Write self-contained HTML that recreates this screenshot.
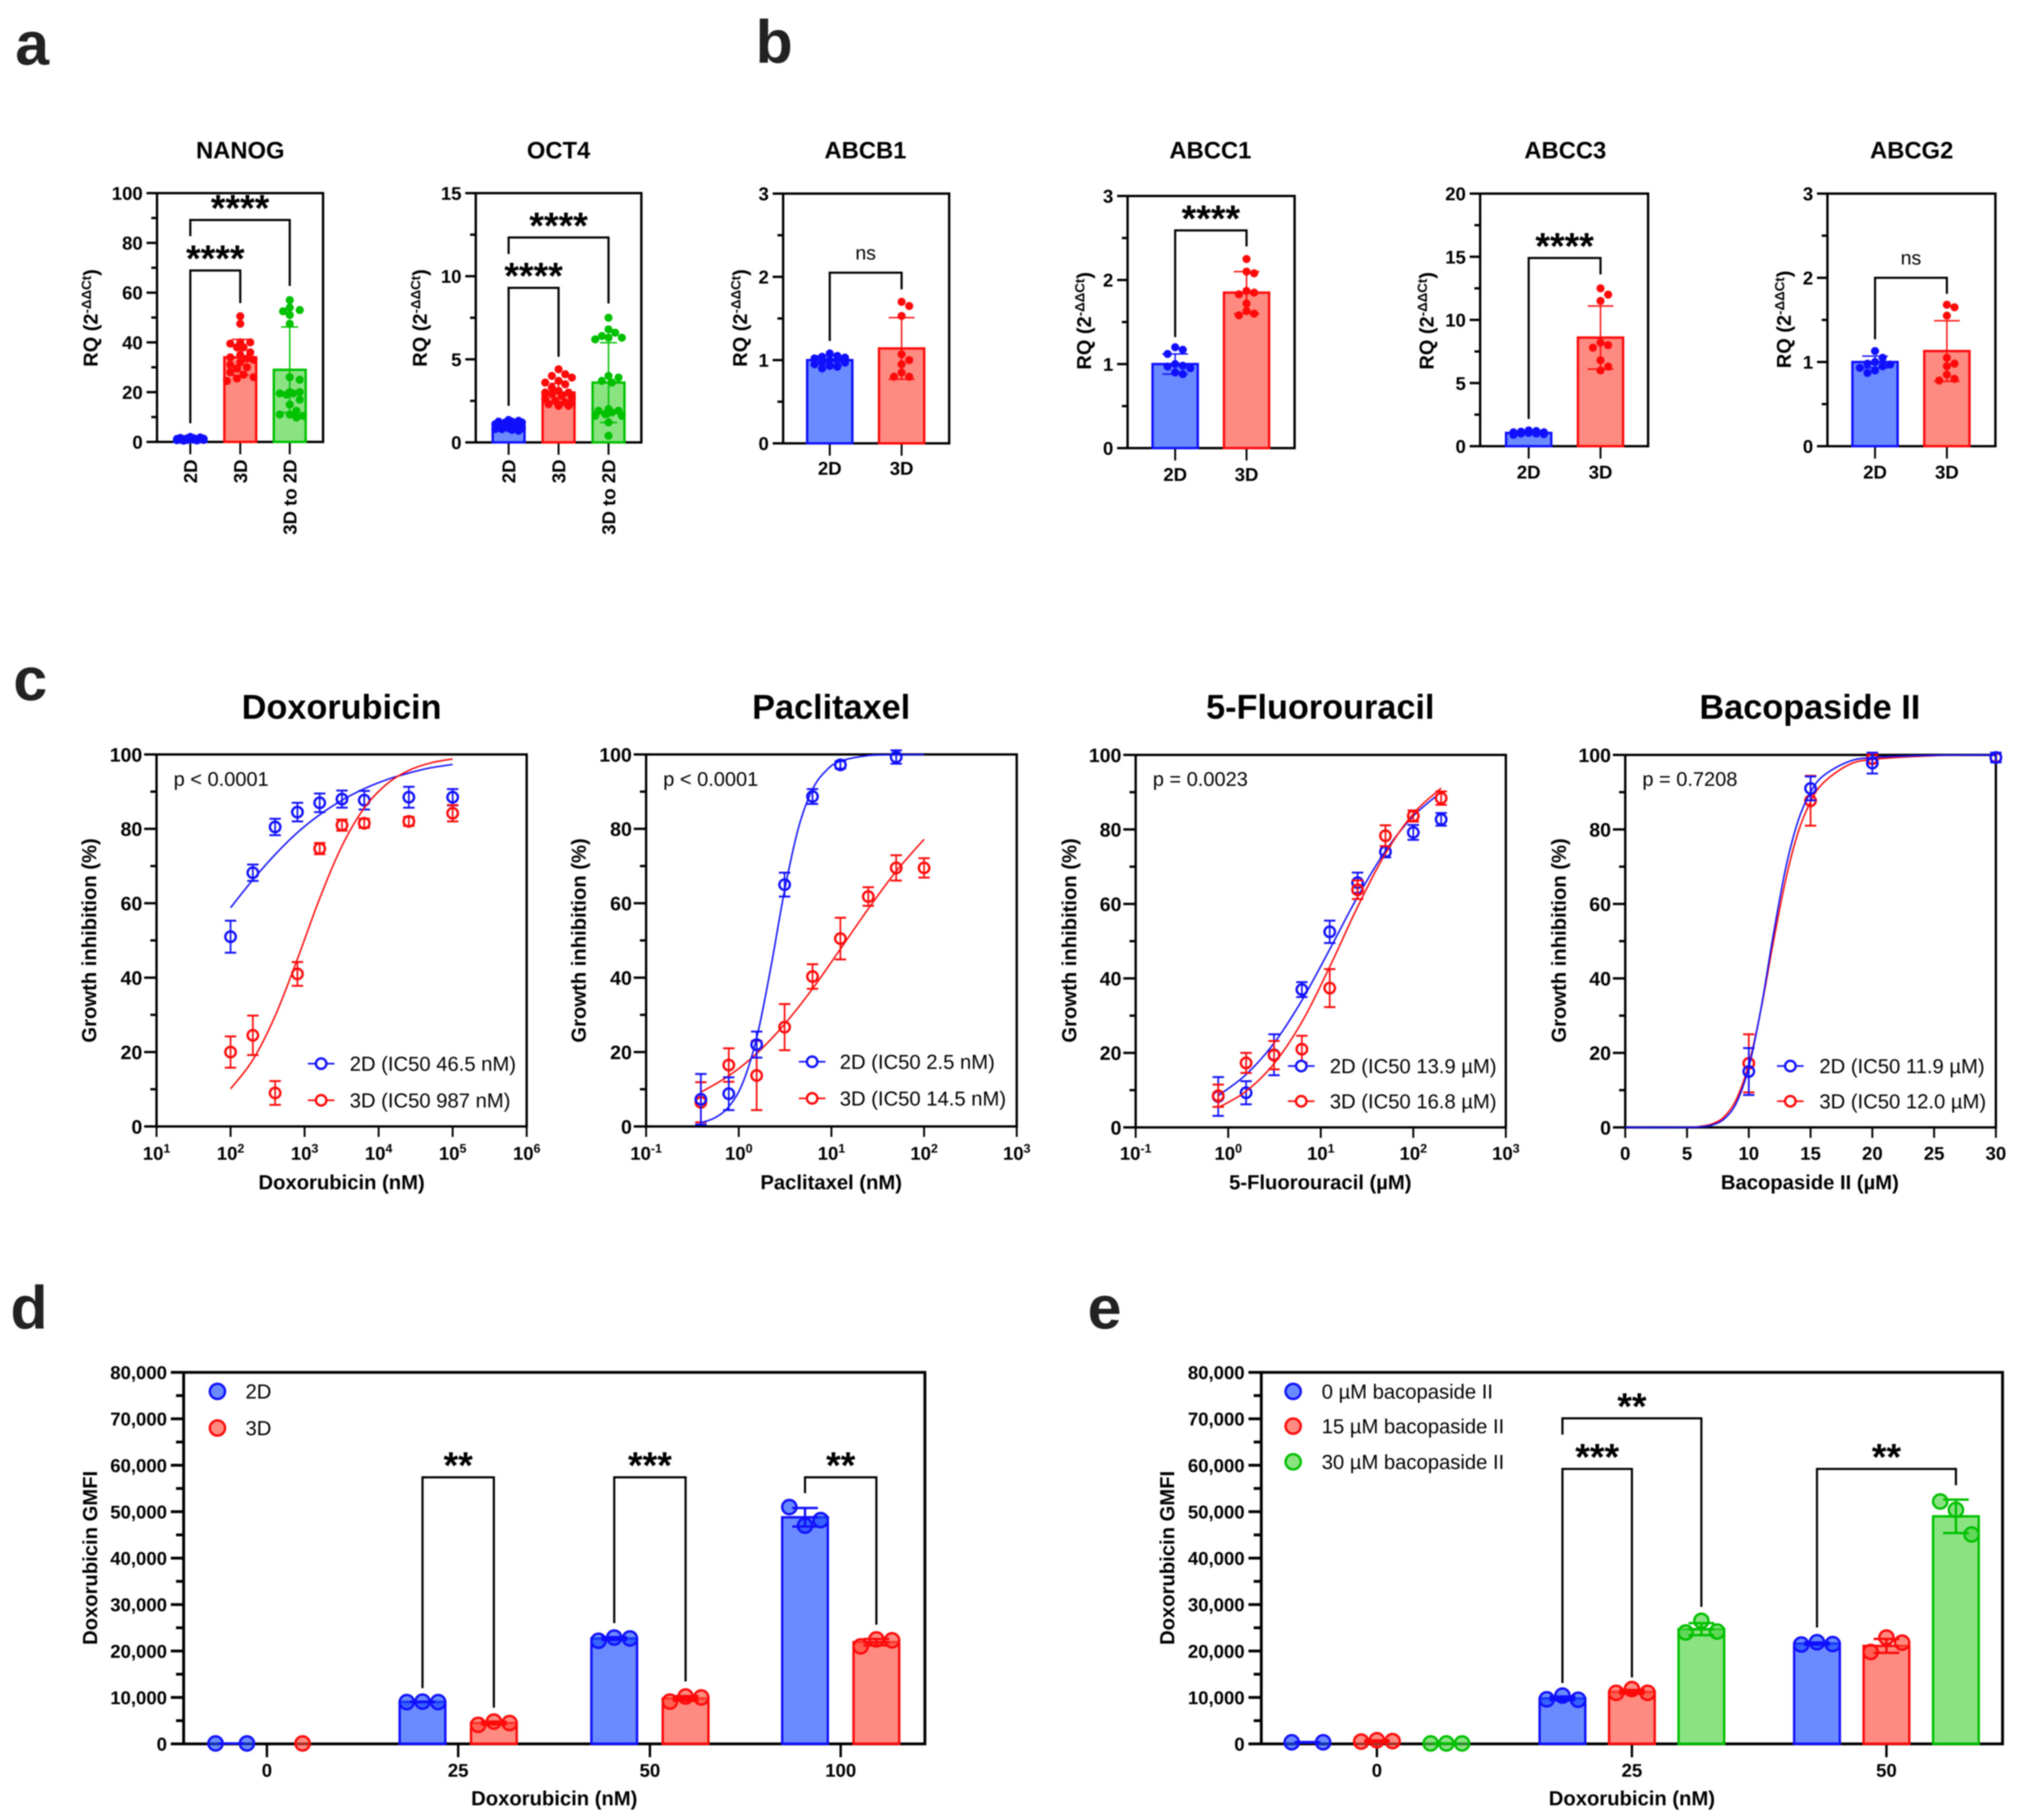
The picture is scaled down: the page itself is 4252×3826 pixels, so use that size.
<!DOCTYPE html>
<html lang="en">
<head>
<meta charset="utf-8">
<title>Figure panels a-e</title>
<style>
html,body{margin:0;padding:0;background:#fff;}
svg{display:block;filter:blur(1.4px);}
text{font-family:"Liberation Sans",Arial,sans-serif;fill:#000;}
.b{font-weight:bold;}
</style>
</head>
<body>
<svg id="figure" width="4252" height="3826" viewBox="0 0 4252 3826">
<rect x="-10" y="-10" width="4272" height="3846" fill="#fff"/>
<g>
<text class="b" x="32" y="136" font-size="128" style="fill:#222">a</text>
<text class="b" x="1588" y="132" font-size="128" style="fill:#222">b</text>
<text class="b" x="28" y="1472" font-size="128" style="fill:#222">c</text>
<text class="b" x="22" y="2793" font-size="128" style="fill:#222">d</text>
<text class="b" x="2286" y="2793" font-size="128" style="fill:#222">e</text>
</g>
<g>
<text class="b" x="505" y="333" font-size="50" text-anchor="middle">NANOG</text>
<text class="b" x="1174" y="333" font-size="50" text-anchor="middle">OCT4</text>
<text class="b" x="1819" y="333" font-size="50" text-anchor="middle">ABCB1</text>
<text class="b" x="2544" y="333" font-size="50" text-anchor="middle">ABCC1</text>
<text class="b" x="3290" y="333" font-size="50" text-anchor="middle">ABCC3</text>
<text class="b" x="4018" y="333" font-size="50" text-anchor="middle">ABCG2</text>
<text class="b" x="718" y="1511" font-size="72" text-anchor="middle">Doxorubicin</text>
<text class="b" x="1747" y="1511" font-size="72" text-anchor="middle">Paclitaxel</text>
<text class="b" x="2775" y="1511" font-size="72" text-anchor="middle">5-Fluorouracil</text>
<text class="b" x="3804" y="1511" font-size="72" text-anchor="middle">Bacopaside II</text>
</g>
<g>
<text class="b" x="718" y="2500" font-size="42.5" text-anchor="middle">Doxorubicin (nM)</text>
<text class="b" x="1747" y="2500" font-size="42.5" text-anchor="middle">Paclitaxel (nM)</text>
<text class="b" x="2775" y="2500" font-size="42.5" text-anchor="middle">5-Fluorouracil (µM)</text>
<text class="b" x="3804" y="2500" font-size="42.5" text-anchor="middle">Bacopaside II (µM)</text>
<text class="b" transform="rotate(-90 202 1977)" x="202" y="1977" font-size="42.5" text-anchor="middle">Growth inhibition (%)</text>
<text class="b" transform="rotate(-90 1231 1977)" x="1231" y="1977" font-size="42.5" text-anchor="middle">Growth inhibition (%)</text>
<text class="b" transform="rotate(-90 2262 1977)" x="2262" y="1977" font-size="42.5" text-anchor="middle">Growth inhibition (%)</text>
<text class="b" transform="rotate(-90 3291 1977)" x="3291" y="1977" font-size="42.5" text-anchor="middle">Growth inhibition (%)</text>
<text class="b" x="1165" y="3795" font-size="42.5" text-anchor="middle">Doxorubicin (nM)</text>
<text class="b" x="3430" y="3795" font-size="42.5" text-anchor="middle">Doxorubicin (nM)</text>
<text class="b" transform="rotate(-90 204 3275)" x="204" y="3275" font-size="42.5" text-anchor="middle">Doxorubicin GMFI</text>
<text class="b" transform="rotate(-90 2468 3275)" x="2468" y="3275" font-size="42.5" text-anchor="middle">Doxorubicin GMFI</text>
</g>
<g>
<text x="365" y="1652" font-size="42">p &lt; 0.0001</text>
<text x="1394" y="1652" font-size="42">p &lt; 0.0001</text>
<text x="2423" y="1652" font-size="42">p = 0.0023</text>
<text x="3452" y="1652" font-size="42">p = 0.7208</text>
</g>
<g id="chart-nanog"></g>
<g id="chart-oct4"></g>
<g id="chart-abcb1"></g>
<g id="chart-abcc1"></g>
<g id="chart-abcc3"></g>
<g id="chart-abcg2"></g>
<g id="chart-dox"></g>
<g id="chart-pac"></g>
<g id="chart-fu"></g>
<g id="chart-bac"></g>
<g id="chart-d"></g>
<g id="chart-e"></g>
</svg>
<script>
// ---------- Panel a ----------
const cats3 = ['2D', '3D', '3D to 2D'];
const cats2 = ['2D', '3D'];
const nanogMeans = [1.1, 34, 29];
const nanogSd = [0.4, 7.2, 17.2];
const nanog2D = [1.5, 1.6, 1.8, 2.0, 1.2, 1.1, 0.9, 0.8, 0.7, 1.0, 1.3, 0.6, 0.9, 1.0, 1.4, 0.5, 0.8, 1.1];
const nanog3D = [50.5, 47.5, 40, 40, 39.5, 38, 38, 36, 35, 34, 33.5, 33, 32, 31, 30, 29.5, 28, 27, 26, 25.5, 24.5];
const nanogGreen = [57, 54, 53, 52.5, 51, 47.5, 26, 25, 20, 20, 19.5, 19.5, 19, 17, 15, 12.5, 11, 11, 10.5, 9.8];
const nanogBrackets = [[0, 1, 68.9, 7.5, 55.8, '****'], [0, 2, 89.2, 82.7, 62.7, '****']];
const oct4Means = [1, 3, 3.6];
const oct4Sd = [0.18, 0.55, 2.4];
const oct42D = [1.35, 1.3, 1.25, 1.25, 1.2, 1.2, 1.15, 1.1, 1.1, 1.05, 1, 1, 0.95, 0.9, 0.9, 0.85, 0.85, 0.8, 0.8, 0.75, 0.7];
const oct43D = [4.4, 4.1, 4, 3.9, 3.7, 3.6, 3.5, 3.3, 3.1, 3, 3, 2.9, 2.8, 2.7, 2.6, 2.5, 2.4, 2.4, 2.3, 2.2, 2.2];
const oct4Green = [7.5, 6.8, 6.6, 6.4, 6.3, 6.3, 6.2, 4.0, 3.9, 3.7, 3.6, 2.0, 1.9, 1.9, 1.8, 1.7, 1.6, 1.6, 1.2, 0.4];
const oct4Brackets = [[0, 1, 9.3, 2.2, 5.15, '****'], [0, 2, 12.33, 11.34, 8.36, '****']];
// ---------- Panel b ----------
const abcb1Means = [1, 1.14];
const abcb1Sd = [0.05, 0.37];
const abcb12D = [1.08, 1.05, 1.04, 1.03, 1.02, 1.0, 1.0, 0.98, 0.97, 0.95, 0.93, 0.92, 0.9];
const abcb13D = [1.7, 1.65, 1.53, 1.07, 1.0, 0.95, 0.85, 0.8, 0.8];
const abcb1Brackets = [[0, 1, 2.05, 1.23, 1.85, 'ns']];
const abcc1Means = [1, 1.85];
const abcc1Sd = [0.12, 0.25];
const abcc12D = [1.2, 1.17, 1.12, 1.0, 0.98, 0.97, 0.95, 0.9, 0.88];
const abcc13D = [2.25, 2.1, 2.08, 1.87, 1.85, 1.83, 1.72, 1.63, 1.6, 1.58];
const abcc1Brackets = [[0, 1, 2.59, 1.32, 2.4, '****']];
const abcc3Means = [1.05, 8.6];
const abcc3Sd = [0.1, 2.5];
const abcc32D = [1.25, 1.2, 1.15, 1.1, 1.1, 1.05, 1.0, 1.0, 0.95, 0.9];
const abcc33D = [12.5, 12, 11.5, 8.2, 8, 7.8, 6.8, 6.3, 6];
const abcc3Brackets = [[0, 1, 14.9, 2.16, 13.6, '****']];
const abcg2Means = [1, 1.13];
const abcg2Sd = [0.07, 0.36];
const abcg22D = [1.13, 1.05, 1.0, 0.98, 0.97, 0.95, 0.93, 0.9, 0.87];
const abcg23D = [1.68, 1.65, 1.55, 1.05, 0.98, 0.95, 0.85, 0.8, 0.78];
const abcg2Brackets = [[0, 1, 2.0, 1.27, 1.81, 'ns']];
// ---------- Panel c ----------
const doxX = [100, 200, 400, 800, 1600, 3200, 6400, 25600, 100000];
const dox2D = [51, 68.2, 80.5, 84.5, 87, 88, 87.7, 88.5, 88.5];
const dox2DErr = [4.3, 2.2, 2.2, 2.5, 2.5, 2.3, 2.5, 2.8, 2.2];
const dox3D = [20, 24.5, 9, 41, 74.7, 81, 81.5, 82, 84.2];
const dox3DErr = [4.2, 5.3, 3.2, 3.2, 1.5, 1.5, 1.2, 1.2, 2.2];
const doxCurveX = [100, 200, 400, 800, 1600, 3200, 6400, 12800, 25600, 50000, 100000];
const doxCurve2D = [58.8, 66.3, 73.1, 79, 83.8, 87.7, 90.8, 93.2, 95, 96.4, 97.3];
const doxCurve3D = [10.1, 17.9, 29.7, 45, 61.3, 75.4, 85.6, 92, 95.7, 97.7, 98.8];
const pacX2D = [0.39, 0.78, 1.56, 3.125, 6.25, 12.5, 50];
const pac2D = [7.3, 8.8, 22, 65, 88.7, 97.2, 99.3];
const pac2DErr = [6.8, 4.4, 3.5, 3.2, 2, 1, 1.8];
const pacX3D = [0.39, 0.78, 1.56, 3.125, 6.25, 12.5, 25, 50, 100];
const pac3D = [6.5, 16.5, 13.7, 26.7, 40.3, 50.5, 61.8, 69.5, 69.5];
const pac3DErr = [5.4, 4.5, 9.3, 6.2, 3.3, 5.6, 2.5, 3.4, 2.6];
const pacCurveX2D = [0.39, 0.55, 0.78, 1.1, 1.56, 2.2, 3.1, 4.4, 6.25, 8.8, 12.5, 25, 50, 100];
const pacCurve2D = [1, 2.3, 5.3, 11.6, 23.8, 42.2, 63, 80.2, 90.6, 95.7, 98.2, 99.7, 99.9, 100];
const pacCurveX3D = [0.39, 0.78, 1.56, 3.1, 6.25, 12.5, 25, 50, 100];
const pacCurve3D = [9.2, 13.6, 19.6, 27.4, 37, 47.7, 58.5, 68.6, 77.2];
const fuX = [0.78, 1.56, 3.125, 6.25, 12.5, 25, 50, 100, 200];
const fu2D = [8.3, 9.3, 19.5, 37, 52.5, 65.7, 74, 79.2, 82.7];
const fu2DErr = [5.2, 3.1, 5.5, 2, 3, 2.7, 1.5, 2, 1.7];
const fu3D = [8.5, 17.3, 19.4, 21, 37.4, 63.8, 78.3, 83.6, 88.4];
const fu3DErr = [3, 2.7, 3.8, 3.6, 5.1, 2.5, 2.8, 1.5, 1.8];
const fuCurve2D = [8.5, 14.2, 22.6, 34.1, 47.8, 61.9, 74.2, 83.6, 90];
const fuCurve3D = [5.3, 9.7, 17.1, 28.3, 43.1, 59.2, 73.5, 84.2, 91.1];
const bacX = [10, 15, 20, 30];
const bac2D = [15, 91, 97.8, 99.3];
const bac2DErr = [6.3, 3.2, 2.8, 1.3];
const bac3D = [17.2, 87.7, 99, 99.3];
const bac3DErr = [7.8, 6.7, 1.3, 1];
const bacCurveX = [0, 5, 6, 7, 8, 9, 10, 11, 12, 13, 14, 15, 16, 18, 20, 25, 30];
const bacCurve2D = [0, 0.03, 0.15, 0.6, 2.25, 6.6, 16.1, 32.1, 52, 69.8, 82.4, 90, 94.3, 98.1, 99.3, 99.9, 100];
const bacCurve3D = [0, 0.05, 0.24, 0.9, 2.85, 7.6, 17, 31.9, 50, 66.7, 79.3, 87.4, 92.4, 97.2, 98.8, 99.8, 100];
const bacTicks = [0, 5, 10, 15, 20, 25, 30];
const doxExps = ['1', '2', '3', '4', '5', '6'];
const pacExps = ['-1', '0', '1', '2', '3'];
const fuExps = ['-1', '0', '1', '2', '3'];
const doxLegend = ['2D (IC50 46.5 nM)', '3D (IC50 987 nM)'];
const pacLegend = ['2D (IC50 2.5 nM)', '3D (IC50 14.5 nM)'];
const fuLegend = ['2D (IC50 13.9 µM)', '3D (IC50 16.8 µM)'];
const bacLegend = ['2D (IC50 11.9 µM)', '3D (IC50 12.0 µM)'];
// ---------- Panel d ----------
const dCats = ['0', '25', '50', '100'];
const dMeans2D = [100, 9050, 22700, 48800];
const dSd2D = [0, 60, 300, 2000];
const dPoints2D = [[100, 100], [9000, 9100, 9000], [22200, 22900, 22700], [51000, 47000, 48200]];
const dMeans3D = [100, 4500, 9800, 21900];
const dSd3D = [0, 300, 500, 700];
const dPoints3D = [[100], [4100, 4800, 4500], [9100, 10200, 10000], [21000, 22500, 22300]];
const dLegend = ['2D', '3D'];
const dBrackets = [[1, 0, 1, 1, 57400, 12000, 7800, '**'], [2, 0, 2, 1, 57400, 26000, 13450, '***'], [3, 0, 3, 1, 57400, 54000, 25660, '**']];
// ---------- Panel e ----------
const eCats = ['0', '25', '50'];
const eMeans0 = [350, 9800, 21600];
const eSd0 = [50, 400, 250];
const ePoints0 = [[350, 350], [9600, 10400, 9500], [21400, 21900, 21500]];
const eMeans15 = [600, 11200, 21100];
const eSd15 = [150, 400, 1500];
const ePoints15 = [[500, 800, 600], [11000, 11800, 11000], [19800, 22900, 21800]];
const eMeans30 = [100, 24700, 49000];
const eSd30 = [20, 1300, 3600];
const ePoints30 = [[100, 100, 100], [24000, 26500, 24200], [52200, 50400, 45100]];
const eLegend = ['0 µM bacopaside II', '15 µM bacopaside II', '30 µM bacopaside II'];
const eBrackets = [[1, 0, 1, 2, 70100, 66600, 29500, '**'], [1, 0, 1, 1, 59200, 13100, 14300, '***'], [2, 0, 2, 2, 59200, 25070, 55700, '**']];

const BLUE = '#1010ff', RED = '#ff0a0a', GREEN = '#00c000';
const FILL_ALPHA = 0.65;
const FILL_BLUE = 'rgb(26,77,255)', FILL_RED = 'rgb(255,75,60)', FILL_GREEN = 'rgb(75,210,64)';
const NS = document.getElementById('figure').namespaceURI;

function mk(parent, tag, name, attrs, txt) {
  const el = document.createElementNS(NS, tag);
  
  
  for (const k in attrs) el.setAttribute(k, attrs[k]);
  if (txt !== undefined) el.textContent = txt;
  parent.appendChild(el);
  return el;
}
function line(p, name, x1, y1, x2, y2, stroke, sw) {
  return mk(p, 'line', name, {x1: x1, y1: y1, x2: x2, y2: y2, stroke: stroke, 'stroke-width': sw});
}
function frame(g, box, sw) {
  mk(g, 'rect', 'plot-frame', {x: box.l, y: box.t, width: box.r - box.l, height: box.b - box.t, fill: 'none', stroke: '#000', 'stroke-width': sw});
}
function yAxis(g, box, yS, yMax, major, minor, o) {
  const n = Math.round(yMax / minor);
  for (let i = 0; i <= n; i++) {
    const v = i * minor;
    const isMajor = Math.abs(v / major - Math.round(v / major)) < 1e-6;
    const y = yS(v);
    line(g, isMajor ? 'y-tick-major' : 'y-tick-minor', box.l - (isMajor ? o.majorLen : o.minorLen), y, box.l, y, '#000', o.sw);
    if (isMajor) {
      mk(g, 'text', 'y-tick-label', {x: box.l - o.gap, y: y + o.fs * 0.36, 'font-size': o.fs, 'text-anchor': 'end', 'font-weight': 'bold'}, v.toLocaleString('en-US'));
    }
  }
}
function swarm(values, yS, r, maxOff, step) {
  const order = values.slice().sort(function (a, b) { return b - a; });
  const placed = [];
  for (const v of order) {
    const y = yS(v);
    let best = 0, bestD = -1;
    for (let k = 0; k * step <= maxOff; k++) {
      const cands = k === 0 ? [0] : [k * step, -k * step];
      for (const off of cands) {
        let d = 1e9;
        for (const q of placed) d = Math.min(d, Math.hypot(q.off - off, q.y - y));
        if (d >= 2 * r * 0.92) { if (bestD < 2 * r * 0.92) { best = off; bestD = d; } }
        else if (d > bestD) { best = off; bestD = d; }
      }
      if (bestD >= 2 * r * 0.92) break;
    }
    placed.push({off: best, y: y, v: v});
  }
  return placed;
}
function bracket(g, x1, x2, yTop, yL, yR, label) {
  mk(g, 'path', 'significance-bracket', {d: 'M' + x1 + ' ' + yL + 'V' + yTop + 'H' + x2 + 'V' + yR, fill: 'none', stroke: '#000', 'stroke-width': 4.5});
  const mid = (x1 + x2) / 2;
  if (label === 'ns') {
    mk(g, 'text', 'significance-label', {x: mid, y: yTop - 28, 'font-size': 41, 'text-anchor': 'middle'}, label);
  } else {
    mk(g, 'text', 'significance-label', {x: mid, y: yTop + 2, 'font-size': 79, 'font-weight': 'bold', 'text-anchor': 'middle'}, label);
  }
}
function rqLabel(g, x, y) {
  const t = mk(g, 'text', 'y-axis-title', {x: x, y: y, transform: 'rotate(-90 ' + x + ' ' + y + ')', 'font-size': 42, 'font-weight': 'bold'});
  mk(t, 'tspan', 'y-axis-title-base', {}, 'RQ (2');
  mk(t, 'tspan', 'y-axis-title-exponent', {dy: -14, 'font-size': 28}, '-ΔΔCt');
  mk(t, 'tspan', 'y-axis-title-close', {dy: 14}, ')');
}
const SER = [[BLUE, FILL_BLUE], [RED, FILL_RED], [GREEN, FILL_GREEN]];

function qpcr(id, box, centers, barW, cats, yMax, major, minor, means, sds, pts, brackets, o) {
  const g = document.getElementById(id);
  const yS = function (v) { return box.b - v / yMax * (box.b - box.t); };
  frame(g, box, 5);
  yAxis(g, box, yS, yMax, major, minor, {majorLen: 22, minorLen: 12, gap: 30, fs: 39, sw: 5});
  cats.forEach(function (c, i) {
    const x = centers[i];
    line(g, 'x-tick', x, box.b, x, box.b + 26, '#000', 4);
    if (o.rotated) {
      mk(g, 'text', 'x-tick-label', {x: x + 14, y: 966, transform: 'rotate(-90 ' + (x + 14) + ' 966)', 'font-size': 39, 'font-weight': 'bold', 'text-anchor': 'end'}, c);
    } else {
      mk(g, 'text', 'x-tick-label', {x: x, y: o.xLabelY, 'font-size': 39, 'font-weight': 'bold', 'text-anchor': 'middle'}, c);
    }
  });
  const cap = o.rotated ? 18 : 27;
  const step = o.rotated ? 7 : 16;
  means.forEach(function (m, i) {
    const x = centers[i], col = SER[i];
    mk(g, 'rect', 'bar-' + cats[i].replace(/ /g, '-').toLowerCase(), {x: x - barW / 2, y: yS(m), width: barW, height: box.b - yS(m), fill: col[1], 'fill-opacity': FILL_ALPHA, stroke: col[0], 'stroke-width': 5});
    swarm(pts[i], yS, 8.5, 32, step).forEach(function (p) {
      mk(g, 'circle', 'data-point', {cx: x + p.off, cy: p.y, r: 8.5, fill: col[0]});
    });
    const s = sds[i];
    line(g, 'error-bar', x, yS(m + s), x, yS(Math.max(m - s, 0)), col[0], 3);
    line(g, 'error-cap', x - cap, yS(m + s), x + cap, yS(m + s), col[0], 3);
    line(g, 'error-cap', x - cap, yS(Math.max(m - s, 0)), x + cap, yS(Math.max(m - s, 0)), col[0], 3);
  });
  brackets.forEach(function (b) {
    bracket(g, centers[b[0]], centers[b[1]], yS(b[2]), yS(b[3]), yS(b[4]), b[5]);
  });
  rqLabel(g, o.rqX, o.rqY);
}
qpcr('chart-nanog', {l: 330, r: 679, t: 406, b: 929}, [400, 505, 609], 67, cats3, 100, 20, 10, nanogMeans, nanogSd, [nanog2D, nanog3D, nanogGreen], nanogBrackets, {rotated: true, rqX: 205, rqY: 771});
qpcr('chart-oct4', {l: 1000, r: 1348, t: 406, b: 930}, [1069, 1174, 1279], 67, cats3, 15, 5, 2.5, oct4Means, oct4Sd, [oct42D, oct43D, oct4Green], oct4Brackets, {rotated: true, rqX: 897, rqY: 771});
qpcr('chart-abcb1', {l: 1646, r: 1995, t: 407, b: 932}, [1744, 1895], 95, cats2, 3, 1, 0.5, abcb1Means, abcb1Sd, [abcb12D, abcb13D], abcb1Brackets, {xLabelY: 998, rqX: 1570, rqY: 771});
qpcr('chart-abcc1', {l: 2370, r: 2721, t: 412, b: 942}, [2470, 2620], 95, cats2, 3, 1, 0.5, abcc1Means, abcc1Sd, [abcc12D, abcc13D], abcc1Brackets, {xLabelY: 1011, rqX: 2293, rqY: 777});
qpcr('chart-abcc3', {l: 3111, r: 3464, t: 407, b: 938}, [3213, 3364], 95, cats2, 20, 5, 2.5, abcc3Means, abcc3Sd, [abcc32D, abcc33D], abcc3Brackets, {xLabelY: 1006, rqX: 3013, rqY: 777});
qpcr('chart-abcg2', {l: 3841, r: 4194, t: 407, b: 938}, [3941, 4092], 95, cats2, 3, 1, 0.5, abcg2Means, abcg2Sd, [abcg22D, abcg23D], abcg2Brackets, {xLabelY: 1006, rqX: 3764, rqY: 774});

function spline(pts) {
  let d = 'M' + pts[0][0].toFixed(1) + ' ' + pts[0][1].toFixed(1);
  for (let i = 0; i < pts.length - 1; i++) {
    const p0 = pts[Math.max(i - 1, 0)], p1 = pts[i], p2 = pts[i + 1], p3 = pts[Math.min(i + 2, pts.length - 1)];
    const c1x = p1[0] + (p2[0] - p0[0]) / 6, c1y = p1[1] + (p2[1] - p0[1]) / 6;
    const c2x = p2[0] - (p3[0] - p1[0]) / 6, c2y = p2[1] - (p3[1] - p1[1]) / 6;
    d += 'C' + c1x.toFixed(1) + ' ' + c1y.toFixed(1) + ' ' + c2x.toFixed(1) + ' ' + c2y.toFixed(1) + ' ' + p2[0].toFixed(1) + ' ' + p2[1].toFixed(1);
  }
  return d;
}
function doseChart(id, box, xS, series, legend, lg, ticks) {
  const g = document.getElementById(id);
  const yS = function (v) { return box.b - v / 100 * (box.b - box.t); };
  frame(g, box, 5);
  yAxis(g, box, yS, 100, 20, 10, {majorLen: 26, minorLen: 13, gap: 30, fs: 41, sw: 5});
  ticks.forEach(function (t) {
    line(g, 'x-tick', xS(t.v), box.b, xS(t.v), box.b + 22, '#000', 4);
    const lab = mk(g, 'text', 'x-tick-label', {x: xS(t.v), y: 2438, 'font-size': 39, 'font-weight': 'bold', 'text-anchor': 'middle'});
    mk(lab, 'tspan', 'x-tick-base', {}, t.base);
    if (t.exp !== undefined) mk(lab, 'tspan', 'x-tick-exponent', {dy: -15, 'font-size': 26}, t.exp);
  });
  series.forEach(function (s) {
    const cv = s.curveX.map(function (x, i) { return [xS(x), yS(s.curveY[i])]; });
    mk(g, 'path', 'fit-curve-' + s.key, {d: spline(cv), fill: 'none', stroke: s.color, 'stroke-width': 3.2});
    s.x.forEach(function (x, i) {
      const px = xS(x), hi = yS(s.y[i] + s.err[i]), lo = yS(s.y[i] - s.err[i]);
      line(g, 'error-bar-' + s.key, px, hi, px, lo, s.color, 3.5);
      line(g, 'error-cap-' + s.key, px - 12, hi, px + 12, hi, s.color, 4);
      line(g, 'error-cap-' + s.key, px - 12, lo, px + 12, lo, s.color, 4);
      mk(g, 'circle', 'point-' + s.key, {cx: px, cy: yS(s.y[i]), r: 11, fill: 'none', stroke: s.color, 'stroke-width': 5});
    });
  });
  [BLUE, RED].forEach(function (c, i) {
    const y = lg.y[i];
    line(g, 'legend-line', lg.x - 28, y, lg.x + 28, y, c, 3.5);
    mk(g, 'circle', 'legend-marker', {cx: lg.x, cy: y, r: 11, fill: '#fff', stroke: c, 'stroke-width': 5});
    mk(g, 'text', 'legend-label', {x: lg.tx, y: y + 15, 'font-size': 42.5}, legend[i]);
  });
}
function logScale(box, lo, hi) {
  return function (v) { return box.l + (Math.log10(v) - lo) / (hi - lo) * (box.r - box.l); };
}
function logTicks(exps) {
  return exps.map(function (e) { return {v: Math.pow(10, Number(e)), base: '10', exp: e}; });
}
const boxDox = {l: 329, r: 1107, t: 1586, b: 2368};
doseChart('chart-dox', boxDox, logScale(boxDox, 1, 6), [
  {key: '2d', color: BLUE, x: doxX, y: dox2D, err: dox2DErr, curveX: doxCurveX, curveY: doxCurve2D},
  {key: '3d', color: RED, x: doxX, y: dox3D, err: dox3DErr, curveX: doxCurveX, curveY: doxCurve3D}
], doxLegend, {x: 675, tx: 735, y: [2236, 2313]}, logTicks(doxExps));
const boxPac = {l: 1358, r: 2137, t: 1586, b: 2368};
doseChart('chart-pac', boxPac, logScale(boxPac, -1, 3), [
  {key: '3d', color: RED, x: pacX3D, y: pac3D, err: pac3DErr, curveX: pacCurveX3D, curveY: pacCurve3D},
  {key: '2d', color: BLUE, x: pacX2D, y: pac2D, err: pac2DErr, curveX: pacCurveX2D, curveY: pacCurve2D}
], pacLegend, {x: 1707, tx: 1765, y: [2232, 2309]}, logTicks(pacExps));
const boxFu = {l: 2387, r: 3165, t: 1587, b: 2370};
doseChart('chart-fu', boxFu, logScale(boxFu, -1, 3), [
  {key: '2d', color: BLUE, x: fuX, y: fu2D, err: fu2DErr, curveX: fuX, curveY: fuCurve2D},
  {key: '3d', color: RED, x: fuX, y: fu3D, err: fu3DErr, curveX: fuX, curveY: fuCurve3D}
], fuLegend, {x: 2735, tx: 2795, y: [2241, 2315]}, logTicks(fuExps));
const boxBac = {l: 3416, r: 4195, t: 1587, b: 2370};
doseChart('chart-bac', boxBac, function (v) { return boxBac.l + v / 30 * (boxBac.r - boxBac.l); }, [
  {key: '3d', color: RED, x: bacX, y: bac3D, err: bac3DErr, curveX: bacCurveX, curveY: bacCurve3D},
  {key: '2d', color: BLUE, x: bacX, y: bac2D, err: bac2DErr, curveX: bacCurveX, curveY: bacCurve2D}
], bacLegend, {x: 3763, tx: 3824, y: [2241, 2315]}, bacTicks.map(function (t) { return {v: t, base: String(t)}; }));

function gmfi(id, box, groups, offsets, cats, means, sds, pts, brackets, legend, lg) {
  const g = document.getElementById(id);
  const yS = function (v) { return box.b - v / 80000 * (box.b - box.t); };
  const bx = function (gi, si) { return groups[gi] + offsets[si]; };
  frame(g, box, 6);
  yAxis(g, box, yS, 80000, 10000, 5000, {majorLen: 27, minorLen: 16, gap: 35, fs: 39, sw: 6});
  cats.forEach(function (c, i) {
    line(g, 'x-tick', groups[i], box.b, groups[i], box.b + 28, '#000', 5);
    mk(g, 'text', 'x-tick-label', {x: groups[i], y: 3735, 'font-size': 39, 'font-weight': 'bold', 'text-anchor': 'middle'}, c);
  });
  means.forEach(function (ser, si) {
    const col = SER[si];
    ser.forEach(function (m, gi) {
      const x = bx(gi, si), list = pts[si][gi];
      if (m >= 1000) {
        mk(g, 'rect', 'bar-series-' + si + '-dose-' + cats[gi], {x: x - 48, y: yS(m), width: 96, height: box.b - yS(m), fill: col[1], 'fill-opacity': FILL_ALPHA, stroke: col[0], 'stroke-width': 5});
      }
      const n = list.length;
      list.forEach(function (v, k) {
        const off = n === 1 ? 0 : (n === 2 ? (k === 0 ? -33 : 33) : (k - 1) * 33);
        mk(g, 'circle', 'data-point', {cx: x + off, cy: yS(v), r: 15, fill: col[1], 'fill-opacity': FILL_ALPHA, stroke: col[0], 'stroke-width': 5});
      });
      if (n > 1) {
        const s = sds[si][gi];
        line(g, 'error-bar', x, yS(m + s), x, yS(Math.max(m - s, 0)), col[0], 5);
        line(g, 'error-cap', x - 27, yS(m + s), x + 27, yS(m + s), col[0], 5);
        line(g, 'error-cap', x - 27, yS(Math.max(m - s, 0)), x + 27, yS(Math.max(m - s, 0)), col[0], 5);
        line(g, 'mean-line', x - 27, yS(m), x + 27, yS(m), col[0], 5);
      }
    });
  });
  brackets.forEach(function (b) {
    bracket(g, bx(b[0], b[1]), bx(b[2], b[3]), yS(b[4]), yS(b[5]), yS(b[6]), b[7]);
  });
  legend.forEach(function (t, i) {
    mk(g, 'circle', 'legend-marker', {cx: lg.x, cy: lg.y[i], r: 16, fill: SER[i][1], 'fill-opacity': FILL_ALPHA, stroke: SER[i][0], 'stroke-width': 5});
    mk(g, 'text', 'legend-label', {x: lg.tx, y: lg.y[i] + 15, 'font-size': 42.5}, t);
  });
}
gmfi('chart-d', {l: 386, r: 1944, t: 2885, b: 3666}, [561, 963, 1366, 1767], [-75, 75], dCats,
  [dMeans2D, dMeans3D], [dSd2D, dSd3D], [dPoints2D, dPoints3D], dBrackets, dLegend, {x: 457, tx: 516, y: [2925, 3002]});
gmfi('chart-e', {l: 2651, r: 4209, t: 2885, b: 3666}, [2894, 3430, 3965], [-146, 0, 146], eCats,
  [eMeans0, eMeans15, eMeans30], [eSd0, eSd15, eSd30], [ePoints0, ePoints15, ePoints30], eBrackets, eLegend, {x: 2718, tx: 2778, y: [2925, 2998, 3073]});
</script>
</body>
</html>
